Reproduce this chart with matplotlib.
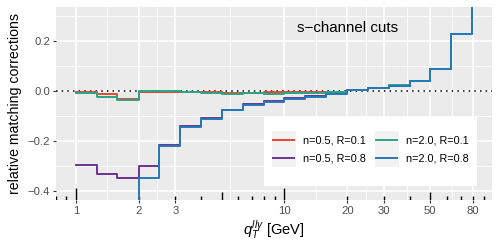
import numpy as np
import matplotlib
matplotlib.use("Agg")
import matplotlib.pyplot as plt
from matplotlib.patches import Rectangle
from matplotlib.lines import Line2D
from matplotlib.legend_handler import HandlerBase

plt.rcParams['font.family'] = ['Liberation Sans', 'DejaVu Sans']
plt.rcParams['mathtext.fontset'] = 'custom'
plt.rcParams['mathtext.rm'] = 'Liberation Sans'
plt.rcParams['mathtext.it'] = 'Liberation Sans:italic'

# ---- data ----
qT = [1.0, 1.26, 1.58, 2.0, 2.51, 3.16, 3.98, 5.01, 6.31, 7.94,
      10.0, 12.6, 15.8, 20.0, 25.1, 31.6, 39.8, 50.1, 63.1, 79.4]
n05_R01 = [-0.004, -0.014, -0.031, -0.004, -0.003, -0.003, -0.006, -0.009, -0.008, -0.006,
           -0.005, -0.004, -0.004, 0.004, 0.012, 0.021, 0.040, 0.087, 0.228, 0.45]
n05_R08 = [-0.294, -0.330, -0.349, -0.299, -0.217, -0.141, -0.106, -0.074, -0.052, -0.042,
           -0.028, -0.021, -0.010, 0.005, 0.011, 0.021, 0.041, 0.087, 0.228, 0.45]
n20_R01 = [-0.008, -0.024, -0.037, 0.000, -0.002, -0.004, -0.010, -0.013, -0.009, -0.011,
           -0.008, -0.007, -0.006, 0.003, 0.013, 0.022, 0.041, 0.087, 0.228, 0.45]
n20_R08 = [-0.60, -0.55, -0.50, -0.346, -0.221, -0.144, -0.111, -0.077, -0.055, -0.045,
           -0.031, -0.024, -0.013, 0.003, 0.010, 0.020, 0.040, 0.086, 0.227, 0.45]
labels = ["n=0.5, R=0.1", "n=0.5, R=0.8", "n=2.0, R=0.1", "n=2.0, R=0.8"]
colors = ["#E4462F", "#6B3490", "#2AA585", "#2678B8"]
x_breaks = [1, 2, 3, 10, 20, 30, 50, 80]
x_break_labels = ["1", "2", "3", "10", "20", "30", "50", "80"]
y_breaks = [-0.4, -0.2, 0.0, 0.2]
y_limits = (-0.4, 0.3)

fig = plt.figure(figsize=(5, 2.5), dpi=100)
W, H = 500, 250
L, R, T, B = 56, 492, 7, 200
ax = fig.add_axes([L / W, 1 - B / H, (R - L) / W, (B - T) / H])
ax.set_facecolor("#EBEBEB")
for s in ax.spines.values():
    s.set_visible(False)

ax.set_xscale("log")
lo, hi = np.log10(min(qT)), np.log10(max(qT))
pad = 0.05 * (hi - lo)
ax.set_xlim(10 ** (lo - pad), 10 ** (hi + pad))
ypad = 0.05 * (y_limits[1] - y_limits[0])
ax.set_ylim(y_limits[0] - ypad, y_limits[1] + ypad)

# grid
lb = np.log10(x_breaks)
x_minor = 10 ** ((lb[:-1] + lb[1:]) / 2)
y_minor = [-0.3, -0.1, 0.1, 0.3]
for xv in x_minor:
    ax.axvline(xv, color="white", lw=0.55, zorder=0.5)
for yv in y_minor:
    ax.axhline(yv, color="white", lw=0.55, zorder=0.5)
for xv in x_breaks:
    ax.axvline(xv, color="white", lw=1.1, zorder=0.6)
for yv in y_breaks:
    ax.axhline(yv, color="white", lw=1.1, zorder=0.6)

# log ticks rug inside panel
rug = [0.8, 0.9] + list(range(1, 10)) + list(range(10, 100, 10)) + [100]
ph = B - T
for v in rug:
    m = v / 10 ** np.floor(np.log10(v) + 1e-9)
    if abs(m - 1) < 1e-6:
        h = 12.0
    elif abs(m - 5) < 1e-6:
        h = 8.5
    else:
        h = 4.5
    ax.plot([v, v], [0, h / ph], color="black", lw=1.0, transform=ax.get_xaxis_transform(),
            zorder=2, clip_on=True, solid_capstyle="butt")

# zero line
ax.axhline(0, color="black", lw=1.1, linestyle=(0, (1, 2.7)), zorder=1.5)

series = [n05_R01, n05_R08, n20_R01, n20_R08]
handles = []
for vals, lab, col in zip(series, labels, colors):
    ln, = ax.step(qT, vals, where="post", color=col, lw=1.4, label=lab, zorder=3)
    handles.append(ln)

ax.text(20, 0.25, "s\u2212channel cuts", fontsize=10.9, ha="center", va="center", color="black")

# ticks
ax.set_xticks(x_breaks)
ax.set_xticklabels(x_break_labels)
ax.xaxis.set_minor_locator(matplotlib.ticker.NullLocator())
ax.set_yticks(y_breaks)
ax.set_yticklabels(["\u22120.4", "\u22120.2", "0.0", "0.2"])
ax.tick_params(axis="both", length=2.5, width=0.8, color="#333333", labelcolor="#4D4D4D",
               labelsize=8.1, pad=1.8)

ax.set_xlabel(r"$q_T^{ll\gamma}$ [GeV]", fontsize=10.6, labelpad=2)
ax.set_ylabel("relative matching corrections", fontsize=10.2, labelpad=4)


class KeyHandler(HandlerBase):
    def create_artists(self, legend, orig_handle, xdescent, ydescent, width, height, fontsize, trans):
        rect = Rectangle((-xdescent, -ydescent), width, height, facecolor="#F2F2F2",
                         edgecolor="none", transform=trans)
        y = -ydescent + height / 2
        line = Line2D([-xdescent + 0.06 * width, -xdescent + 0.94 * width], [y, y],
                      color=orig_handle.get_color(), lw=orig_handle.get_linewidth(), transform=trans)
        return [rect, line]


# legend background box
bx0, bx1, by0, by1 = 264, 477, 117, 186
box = Rectangle(((bx0 - L) / (R - L), (B - by1) / (B - T)), (bx1 - bx0) / (R - L), (by1 - by0) / (B - T),
                transform=ax.transAxes, facecolor="white", edgecolor="none", zorder=5)
ax.add_patch(box)
fs = 7.8
fpx = fs * 100 / 72
leg = ax.legend(handles=handles, labels=labels, ncol=2, loc="upper left",
                bbox_to_anchor=((271.7 - L) / (R - L), (B - 130.7) / (B - T)),
                frameon=False, fontsize=fs, borderpad=0, borderaxespad=0,
                handlelength=24 / fpx, handleheight=24 / fpx, labelspacing=0,
                handletextpad=7 / fpx, columnspacing=9 / fpx,
                handler_map={Line2D: KeyHandler()})
leg.set_zorder(6)

fig.savefig("out.png", dpi=100)
